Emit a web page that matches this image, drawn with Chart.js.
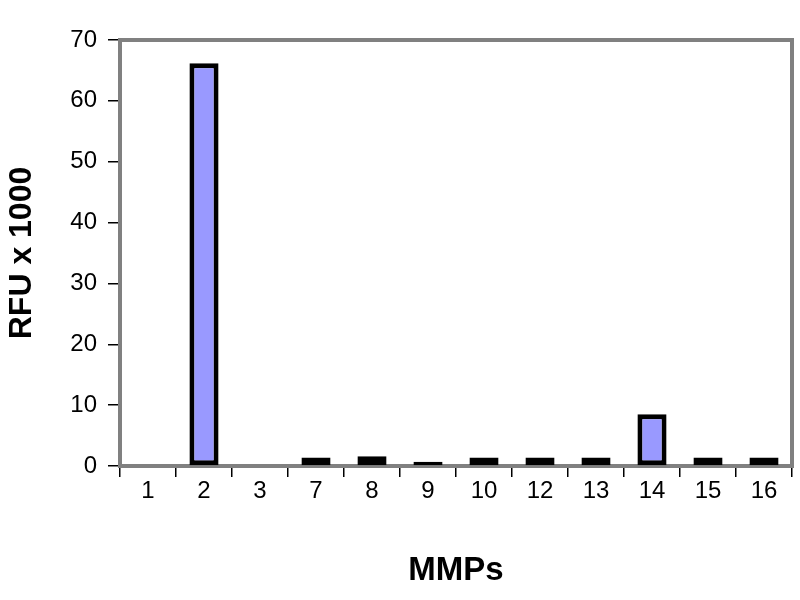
<!DOCTYPE html>
<html>
<head>
<meta charset="utf-8">
<script src="https://cdn.jsdelivr.net/npm/chart.js@4/dist/chart.umd.min.js"></script>
<style>
  html, body { margin: 0; padding: 0; background: #ffffff; }
  #wrap { width: 800px; height: 600px; position: relative; }
</style>
</head>
<body>
<div id="wrap"><canvas id="c" width="800" height="600"></canvas></div>
<script>
const categories = ['1', '2', '3', '7', '8', '9', '10', '12', '13', '14', '15', '16'];
const rfuValues = [0, 66.2, 0, 1.4, 1.6, 0.7, 1.4, 1.4, 1.4, 8.5, 1.4, 1.4];
const yTicks = [0, 10, 20, 30, 40, 50, 60, 70];
const xTitle = 'MMPs';
const yTitle = 'RFU x 1000';

const FONT = "'Liberation Sans', Arial, sans-serif";
const GRAY = '#808080';

const frame = {
  id: 'frame',
  beforeDatasetsDraw(chart) {
    const { ctx, chartArea: a } = chart;
    ctx.save();
    ctx.strokeStyle = GRAY;
    ctx.lineWidth = 4;
    ctx.strokeRect(a.left, a.top, a.right - a.left, a.bottom - a.top);
    ctx.restore();
  }
};

new Chart(document.getElementById('c'), {
  type: 'bar',
  data: {
    labels: categories,
    datasets: [{
      data: rfuValues,
      backgroundColor: '#9999FF',
      borderColor: (c) => (c.raw === 0 ? 'rgba(0,0,0,0)' : '#000000'),
      borderWidth: 5,
      borderSkipped: false,
      barPercentage: 0.52,
      categoryPercentage: 1.0
    }]
  },
  options: {
    responsive: false,
    animation: false,
    devicePixelRatio: 1,
    layout: { padding: { top: 40, right: 8, bottom: 0, left: 0 } },
    plugins: { legend: { display: false }, tooltip: { enabled: false } },
    scales: {
      x: {
        grid: { offset: true, drawOnChartArea: false, color: '#000000', lineWidth: 1.5, tickLength: 11 },
        border: { color: GRAY, width: 4 },
        ticks: { color: '#000000', font: { family: FONT, size: 24 }, padding: 0, maxRotation: 0 },
        title: { display: true, text: xTitle, color: '#000000', font: { family: FONT, size: 33, weight: 'bold' }, padding: { top: 0, bottom: 9 } },
        afterFit(s) { s.height = 134; }
      },
      y: {
        min: 0,
        max: 70,
        afterBuildTicks(s) { s.ticks = yTicks.map(v => ({ value: v })); },
        grid: { drawOnChartArea: false, color: '#000000', lineWidth: 1.5, tickLength: 12 },
        border: { color: GRAY, width: 4 },
        ticks: { color: '#000000', font: { family: FONT, size: 24 }, padding: 11 },
        title: { display: true, text: yTitle, color: '#000000', font: { family: FONT, size: 32, weight: 'bold' }, padding: { top: 3, bottom: 0 } },
        afterFit(s) { s.width = 120; }
      }
    }
  },
  plugins: [frame]
});
</script>
</body>
</html>
